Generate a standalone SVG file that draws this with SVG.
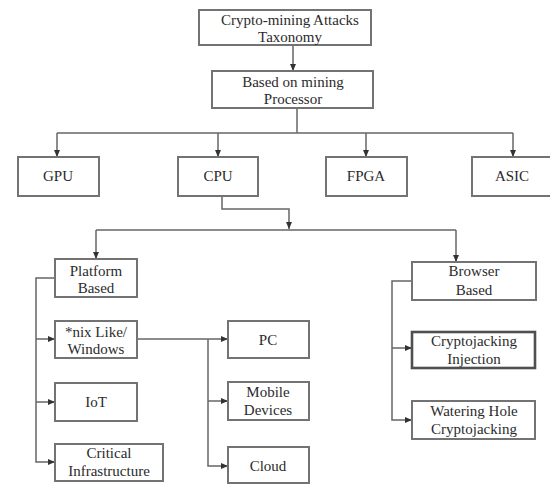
<svg xmlns="http://www.w3.org/2000/svg" width="550" height="484" viewBox="0 0 550 484">
  <defs>
    <marker id="arrow" markerUnits="userSpaceOnUse" markerWidth="8" markerHeight="8" viewBox="0 0 8 8" refX="7" refY="4" orient="auto">
      <path d="M0,1 L7,4 L0,7 Z" fill="#333"/>
    </marker>
    <style>
      .box { fill: #ffffff; stroke: #737373; stroke-width: 2; }
      .box.strong { stroke: #4f4f4f; stroke-width: 2.6; }
      .lbl { font-family: "Liberation Serif", "Times New Roman", serif; font-size: 15px; fill: #2b2b2b; text-anchor: middle; }
      .conn path { fill: none; stroke: #666666; stroke-width: 1.5; }
      .conn path.arr { marker-end: url(#arrow); }
    </style>
  </defs>
  <rect width="550" height="484" fill="#ffffff"/>

  <!-- connectors -->
  <g id="connectors" class="conn">
    <path class="arr" d="M293 45 V71"/>
    <path d="M297 108 V133"/>
    <path d="M57 133 H513"/>
    <path class="arr" d="M57 133 V157"/>
    <path class="arr" d="M218 133 V157"/>
    <path class="arr" d="M366 133 V157"/>
    <path class="arr" d="M513 133 V157"/>
    <path class="arr" d="M222 196 V209 H289 V229"/>
    <path d="M96 230 H456"/>
    <path class="arr" d="M96 230 V259"/>
    <path class="arr" d="M456 230 V262"/>
    <path class="arr" d="M55 278 H36 V462 H55"/>
    <path class="arr" d="M36 339 H55"/>
    <path class="arr" d="M36 402 H55"/>
    <path class="arr" d="M137 339 H228"/>
    <path class="arr" d="M208 339 V466 H228"/>
    <path class="arr" d="M208 401 H228"/>
    <path class="arr" d="M412 281 H392 V420 H412"/>
    <path class="arr" d="M392 348 H412"/>
  </g>

  <!-- nodes -->
  <g id="taxonomy">
    <rect class="box" x="199" y="10" width="172" height="35"/>
    <text class="lbl" x="290" y="25">Crypto-mining Attacks</text>
    <text class="lbl" x="290" y="42">Taxonomy</text>
  </g>
  <g id="processor">
    <rect class="box" x="212" y="71" width="161" height="37"/>
    <text class="lbl" x="293" y="87">Based on mining</text>
    <text class="lbl" x="293" y="104">Processor</text>
  </g>
  <g id="gpu">
    <rect class="box" x="18" y="157" width="81" height="39"/>
    <text class="lbl" x="58" y="181">GPU</text>
  </g>
  <g id="cpu">
    <rect class="box" x="178" y="157" width="80" height="39"/>
    <text class="lbl" x="218" y="181">CPU</text>
  </g>
  <g id="fpga">
    <rect class="box" x="326" y="157" width="81" height="39"/>
    <text class="lbl" x="366" y="181">FPGA</text>
  </g>
  <g id="asic">
    <rect class="box" x="472" y="157" width="82" height="39"/>
    <text class="lbl" x="512" y="181">ASIC</text>
  </g>
  <g id="platform">
    <rect class="box" x="55" y="259" width="82" height="38"/>
    <text class="lbl" x="96" y="276">Platform</text>
    <text class="lbl" x="96" y="293">Based</text>
  </g>
  <g id="nix">
    <rect class="box" x="55" y="321" width="82" height="37"/>
    <text class="lbl" x="96" y="337">*nix Like/</text>
    <text class="lbl" x="96" y="354">Windows</text>
  </g>
  <g id="iot">
    <rect class="box" x="55" y="383" width="82" height="38"/>
    <text class="lbl" x="96" y="407">IoT</text>
  </g>
  <g id="critical">
    <rect class="box" x="55" y="444" width="108" height="37"/>
    <text class="lbl" x="109" y="458">Critical</text>
    <text class="lbl" x="109" y="476">Infrastructure</text>
  </g>
  <g id="pc">
    <rect class="box" x="228" y="321" width="81" height="37"/>
    <text class="lbl" x="268" y="345">PC</text>
  </g>
  <g id="mobile">
    <rect class="box" x="228" y="382" width="81" height="38"/>
    <text class="lbl" x="268" y="397">Mobile</text>
    <text class="lbl" x="268" y="415">Devices</text>
  </g>
  <g id="cloud">
    <rect class="box" x="228" y="447" width="81" height="36"/>
    <text class="lbl" x="268" y="471">Cloud</text>
  </g>
  <g id="browser">
    <rect class="box" x="412" y="262" width="124" height="38"/>
    <text class="lbl" x="474" y="276">Browser</text>
    <text class="lbl" x="474" y="295">Based</text>
  </g>
  <g id="injection">
    <rect class="box strong" x="412" y="332" width="123" height="36"/>
    <text class="lbl" x="474" y="346">Cryptojacking</text>
    <text class="lbl" x="474" y="364">Injection</text>
  </g>
  <g id="watering">
    <rect class="box" x="412" y="401" width="123" height="38"/>
    <text class="lbl" x="474" y="416">Watering Hole</text>
    <text class="lbl" x="474" y="434">Cryptojacking</text>
  </g>
</svg>
